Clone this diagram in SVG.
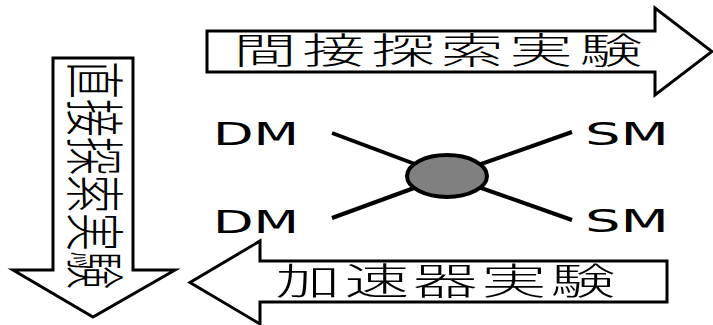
<svg xmlns="http://www.w3.org/2000/svg" width="713" height="325" viewBox="0 0 713 325">
<style>
.arrow{fill:#fff;stroke:#000;stroke-width:3;stroke-linejoin:miter}
.jp{font-family:"Noto Sans CJK JP","Noto Sans CJK SC",sans-serif;font-weight:300;fill:#000}
.lbl{font-family:"DejaVu Sans",sans-serif;font-size:31.5px;fill:#000}
.line{stroke:#000;stroke-width:4;fill:none}
</style>
<rect width="713" height="325" fill="#fff"/>
<g id="connectors">
<line class="line" x1="332" y1="133" x2="447" y2="176"/>
<line class="line" x1="572" y1="132" x2="447" y2="176"/>
<line class="line" x1="332" y1="218" x2="447" y2="176"/>
<line class="line" x1="572" y1="220" x2="447" y2="176"/>
</g>
<g id="indirect">
<polygon class="arrow" points="207,31 655,31 655,8 712,51.5 655,95 655,72 207,72"/>
<text class="jp" font-size="36" transform="scale(1.75,1)" y="64.5" text-anchor="middle" x="151.4 190.9 230.3 269.7 309.1 349.1">間接探索実験</text>
</g>
<g id="direct">
<polygon class="arrow" points="53,58 133,58 133,270 175,270 93,317 13,270 53,270"/>
<text class="jp" font-size="38" transform="translate(72,61) scale(1.58,1) rotate(90)" x="0" y="0">直接探索実験</text>
</g>
<g id="accelerator">
<polygon class="arrow" points="667,261 667,302 260,302 260,324 190,282.5 260,241 260,261"/>
<text class="jp" font-size="37" transform="scale(1.75,1)" y="295" text-anchor="middle" x="176 215.4 254.3 293.7 333.1">加速器実験</text>
</g>
<g id="vertex">
<ellipse cx="447" cy="176" rx="40" ry="21" fill="#808080" stroke="#000" stroke-width="4"/>
</g>
<g id="dm1"><text class="lbl" x="213" y="145" textLength="86" lengthAdjust="spacingAndGlyphs">DM</text></g>
<g id="dm2"><text class="lbl" x="213" y="233" textLength="86" lengthAdjust="spacingAndGlyphs">DM</text></g>
<g id="sm1"><text class="lbl" x="585" y="145" textLength="84" lengthAdjust="spacingAndGlyphs">SM</text></g>
<g id="sm2"><text class="lbl" x="585" y="232" textLength="84" lengthAdjust="spacingAndGlyphs">SM</text></g>
</svg>
